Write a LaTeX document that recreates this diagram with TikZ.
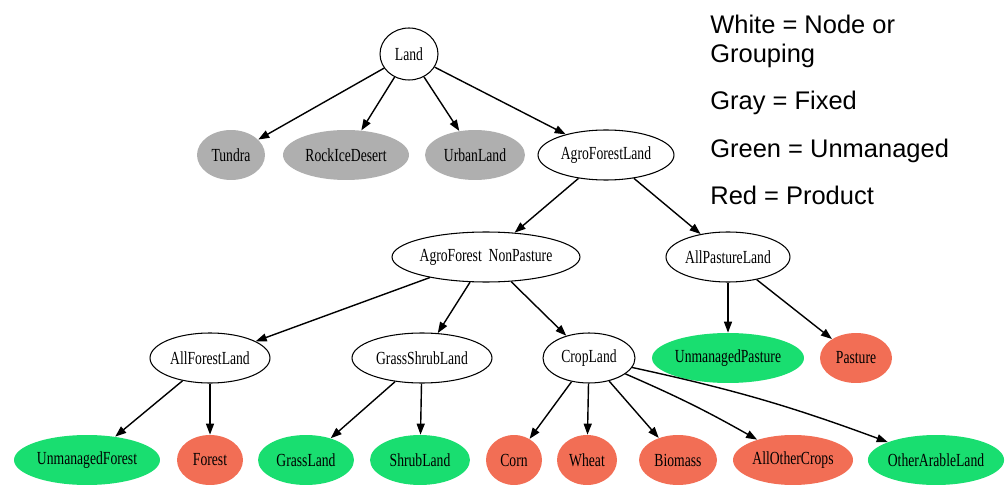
\documentclass[tikz,border=0pt]{standalone}
\usepackage{fontspec}
\setmainfont{Liberation Serif}
\newfontfamily\labelfont[FakeStretch=0.74]{Liberation Serif}
\newfontfamily\legendfont{Liberation Sans}
\usetikzlibrary{arrows.meta,shapes.geometric}
\definecolor{FixedGray}{RGB}{175,175,175}
\definecolor{UnmanagedGreen}{RGB}{25,222,112}
\definecolor{ProductRed}{RGB}{242,110,85}

\begin{document}
\begin{tikzpicture}[x=0.02cm,y=-0.02cm,
  land/.style={ellipse,inner sep=0pt,minimum height=1cm,font=\labelfont\fontsize{10.5}{12}\selectfont},
  group/.style={land,draw=black,line width=0.6pt,fill=white},
  fixed/.style={land,fill=FixedGray},
  unmanaged/.style={land,fill=UnmanagedGreen},
  product/.style={land,fill=ProductRed},
  link/.style={line width=0.8pt,-{Triangle[length=0.22cm,width=0.16cm]}},
  legend/.style={anchor=base west,inner sep=0pt,align=left,font=\legendfont\fontsize{14.5}{17}\selectfont}]

\useasboundingbox (0,0) rectangle (1007,486);

% top level
\node[group,minimum width=1.16cm,minimum height=1.04cm] (land) at (409,54) {Land};

\node[fixed,minimum width=1.36cm] (tundra) at (231,155) {Tundra};
\node[fixed,minimum width=2.52cm] (rockice) at (346,155) {RockIceDesert};
\node[fixed,minimum width=2.0cm] (urban) at (475,155) {UrbanLand};
\node[group,minimum width=2.72cm] (agroforest) at (606,155) {AgroForestLand};

% second level
\node[group,minimum width=3.76cm] (nonpasture) at (486,257) {AgroForest\ \ NonPasture};
\node[group,minimum width=2.48cm] (allpasture) at (728,257) {AllPastureLand};

% third level
\node[group,minimum width=2.4cm] (allforest) at (210,358) {AllForestLand};
\node[group,minimum width=2.8cm] (grassshrub) at (422,358) {GrassShrubLand};
\node[group,minimum width=1.84cm] (crop) at (589,358) {CropLand};
\node[unmanaged,minimum width=3.04cm] (unmpasture) at (728,358) {UnmanagedPasture};
\node[product,minimum width=1.44cm] (pasture) at (856,358) {Pasture};

% bottom row
\node[unmanaged,minimum width=2.92cm] (unmforest) at (87,460) {UnmanagedForest};
\node[product,minimum width=1.32cm] (forest) at (210,460) {Forest};
\node[unmanaged,minimum width=1.92cm] (grass) at (306,460) {GrassLand};
\node[unmanaged,minimum width=2.0cm] (shrub) at (420,460) {ShrubLand};
\node[product,minimum width=1.12cm] (corn) at (514,460) {Corn};
\node[product,minimum width=1.2cm] (wheat) at (587,460) {Wheat};
\node[product,minimum width=1.56cm] (biomass) at (678,460) {Biomass};
\node[product,minimum width=2.4cm] (othercrops) at (793,460) {AllOtherCrops};
\node[unmanaged,minimum width=2.64cm] (arable) at (936,460) {OtherArableLand};

% links
\foreach \child in {tundra,rockice,urban,agroforest}
  \draw[link] (land) -- (\child);
\foreach \child in {nonpasture,allpasture}
  \draw[link] (agroforest) -- (\child);
\foreach \child in {allforest,grassshrub,crop}
  \draw[link] (nonpasture) -- (\child);
\foreach \child in {unmpasture,pasture}
  \draw[link] (allpasture) -- (\child);
\foreach \child in {unmforest,forest}
  \draw[link] (allforest) -- (\child);
\foreach \child in {grass,shrub}
  \draw[link] (grassshrub) -- (\child);
\foreach \child in {corn,wheat,biomass}
  \draw[link] (crop) -- (\child);
\draw[link] (crop) to[bend left=3] (othercrops);
\draw[link] (crop) to[bend left=4] (arable);

% legend
\node[legend] (white) at (710,63) {White = Node or\\Grouping};
\node[legend] (gray) at (710,110) {Gray = Fixed};
\node[legend] (green) at (710,158) {Green = Unmanaged};
\node[legend] (red) at (710,205) {Red = Product};

\end{tikzpicture}
\end{document}
